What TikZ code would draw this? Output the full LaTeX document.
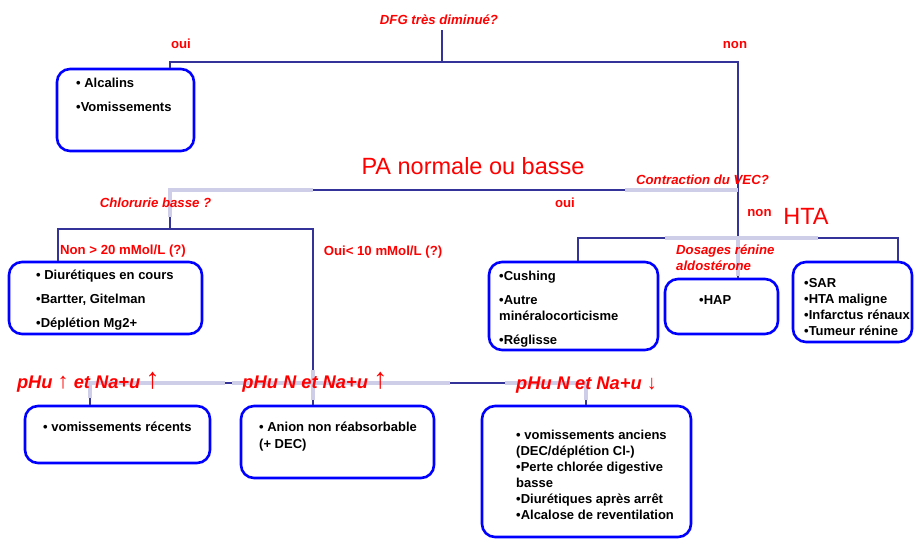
\documentclass[tikz,border=0pt]{standalone}
\usepackage{fontspec}
\setmainfont{Liberation Sans}
\definecolor{linkblue}{RGB}{51,51,153}
\definecolor{fadeblue}{RGB}{206,206,232}
\definecolor{boxblue}{RGB}{0,0,255}
\definecolor{alert}{RGB}{255,0,0}
\newcommand{\uparr}[1]{{\normalfont\fontsize{#1}{#1}\selectfont ↑}}
\newcommand{\downarr}[1]{{\normalfont\fontsize{#1}{#1}\selectfont ↓}}

\begin{document}
\begin{tikzpicture}[x=1pt,y=-1pt,
  tline/.style={draw=linkblue,line width=2.6pt},
  faded/.style={draw=fadeblue,line width=3.2pt},
  cbox/.style={draw=boxblue,line width=2.6pt,rounded corners=13pt,inner sep=0pt},
  item/.style={font=\bfseries\fontsize{13}{16}\selectfont,align=left,inner sep=0pt,anchor=north west},
  ask/.style={font=\bfseries\itshape\fontsize{13.2}{16}\selectfont,text=alert,inner sep=0pt,text height=9.5pt,text depth=0pt},
  ans/.style={font=\bfseries\fontsize{13.2}{16}\selectfont,text=alert,inner sep=0pt,text height=9.5pt,text depth=0pt},
  big/.style={font=\fontsize{23.5}{28}\selectfont,text=alert,inner sep=0pt,text height=16.8pt,text depth=0pt},
  urin/.style={font=\bfseries\itshape\fontsize{18.3}{22}\selectfont,text=alert,inner sep=0pt,text height=13.1pt,text depth=0pt}]
\useasboundingbox (0,0) rectangle (915,538);
% Boxes
\node[cbox,minimum width=137pt,minimum height=82pt] (alc) at (125.5,110) {};
\node[cbox,minimum width=193pt,minimum height=72pt] (diu) at (105.5,298) {};
\node[cbox,minimum width=169pt,minimum height=88pt] (cush) at (573.5,306) {};
\node[cbox,minimum width=113pt,minimum height=55pt] (hap) at (721.5,306.5) {};
\node[cbox,minimum width=119pt,minimum height=80pt] (sar) at (852.5,302) {};
\node[cbox,minimum width=185pt,minimum height=57pt] (vrec) at (117.5,434.5) {};
\node[cbox,minimum width=193pt,minimum height=72pt] (anion) at (337.5,442) {};
\node[cbox,minimum width=209pt,minimum height=131pt] (vanc) at (586.5,471.5) {};
% Tree junctions
\coordinate (j0) at (442,30);
\coordinate (j1) at (442,62);
\coordinate (a1) at (170,62);
\coordinate (a2) at (738,62);
\coordinate (b1) at (170,190);
\coordinate (b2) at (738,190);
\coordinate (c1) at (58,229);
\coordinate (c2) at (313,229);
\coordinate (h1) at (578,238);
\coordinate (h2) at (898,238);
\coordinate (d1) at (90,383);
\coordinate (d2) at (586,383);
% Connectors
\draw[tline] (j0) -- (j1);
\draw[tline] (a1 |- alc.north) -- (a1) -- (a2) -- (a2 |- hap.north);
\draw[tline] (b2) -- (b1) -- (b1 |- c1);
\draw[tline] (c1 |- diu.north) -- (c1) -- (c2) -- (c2 |- anion.north);
\draw[tline] (h1 |- cush.north) -- (h1) -- (h2) -- (h2 |- sar.north);
\draw[tline] (d1 |- vrec.north) -- (d1) -- (d2) -- (d2 |- vanc.north);
% Faded parts of the bars
\draw[faded] (170,217) -- (b1) -- (313,190);
\draw[faded] (625,190) -- (b2);
\draw[faded] (665,238) -- (818,238);
\draw[faded] (738,240) -- (738,276);
\draw[faded] (90,398) -- (d1) -- (225,383);
\draw[faded] (232,383) -- (450,383);
\draw[faded] (505,383) -- (d2) -- (586,400);
\draw[faded] (313,370) -- (313,400);
% Box texts
\node[item] (alct) at (76,78) {• Alcalins\\[8pt]•Vomissements};
\node[item] (diut) at (36,270) {• Diurétiques en cours\\[8pt]•Bartter, Gitelman\\[8pt]•Déplétion Mg2+};
\node[item] (cusht) at (499,271) {•Cushing\\[8pt]•Autre\\minéralocorticisme\\[8pt]•Réglisse};
\node[item] (hapt) at (699,295) {•HAP};
\node[item] (sart) at (804,278) {•SAR\\•HTA maligne\\•Infarctus rénaux\\•Tumeur rénine};
\node[item] (vrect) at (43,422) {• vomissements récents};
\node[item] (aniont) at (259,422) {• Anion non réabsorbable\\[1pt](+ DEC)};
\node[item] (vanct) at (516,430) {• vomissements anciens\\(DEC/déplétion Cl-)\\•Perte chlorée digestive\\basse\\•Diurétiques après arrêt\\•Alcalose de reventilation};
% Questions and answers
\node[ask] (q1) at (439,20) {DFG très diminué?};
\node[ans] (oui1) at (181,44) {oui};
\node[ans] (non1) at (735,44) {non};
\node[big] (pa) at (473,166.5) {PA normale ou basse};
\node[ask] (vec) at (702.5,180) {Contraction du VEC?};
\node[ans] (oui2) at (565,203) {oui};
\node[ask] (chl) at (155.5,203) {Chlorurie basse ?};
\node[ans] (nonc) at (123,250) {Non > 20 mMol/L (?)};
\node[ans] (ouic) at (383,251) {Oui< 10 mMol/L (?)};
\node[ans] (non2) at (759.5,212) {non};
\node[big] (hta) at (806,216) {HTA};
\node[font=\bfseries\itshape\fontsize{13.2}{16}\selectfont,text=alert,align=left,inner sep=0pt,anchor=north west] (dos) at (676,245) {Dosages rénine\\aldostérone};
% Urinary pH and Na
\node[urin] (ph1) at (88.5,382) {pHu \uparr{22} et Na+u \uparr{29}};
\node[urin] (ph2) at (315,382) {pHu N et Na+u \uparr{29}};
\node[urin] (ph3) at (586.5,383) {pHu N et Na+u \downarr{20}};
\end{tikzpicture}
\end{document}
